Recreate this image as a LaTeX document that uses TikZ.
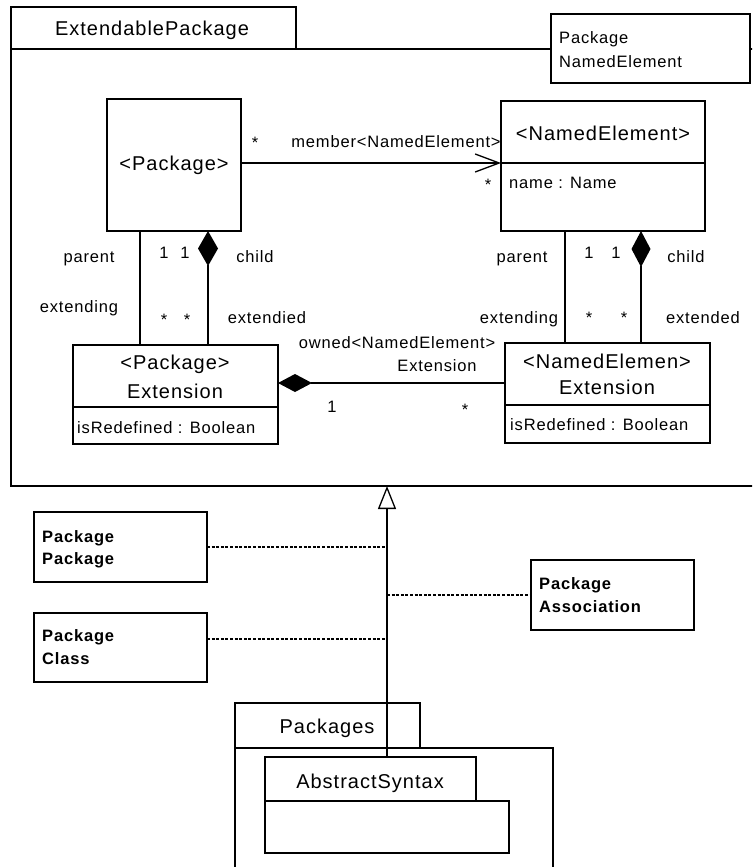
\documentclass[tikz,border=0pt]{standalone}
\usepackage{fontspec}
\setmainfont{Liberation Sans}[LetterSpace=5]
\usetikzlibrary{arrows.meta}
\newcommand\fS{\fontsize{16.5pt}{19pt}\selectfont}
\newcommand\fB{\fontsize{20pt}{24pt}\selectfont}
\tikzset{
  cls/.style={draw, line width=1.8pt, inner sep=0pt, outer sep=0pt, anchor=north west, fill=white},
  pk/.style={draw, line width=1.4pt, inner sep=0pt, outer sep=0pt, anchor=north west},
  nt/.style={draw, line width=1.3pt, inner sep=0pt, outer sep=0pt, anchor=north west, fill=white},
  lbl/.style={font=\fS, inner sep=0pt, text height=11.8pt, text depth=0pt},
  lblw/.style={lbl, anchor=west},
  big/.style={font=\fB, inner sep=0pt, text height=14.3pt, text depth=0pt},
  bld/.style={font=\fS\bfseries, inner sep=0pt, text height=11.8pt, text depth=0pt, anchor=west},
  conn/.style={line width=1.3pt},
  dsh/.style={line width=1.2pt, dash pattern=on 3pt off 1.6pt},
}
\begin{document}
\begin{tikzpicture}[x=1pt,y=-1pt]
\useasboundingbox (0,0) rectangle (752,867);
\clip (0,0) rectangle (752,867);
% top package
\node[pk, minimum width=770pt, minimum height=437pt] (body) at (11,49) {};
\node[pk, minimum width=285pt, minimum height=42pt] (tab) at (11,7) {};
\node[big] (tabT) at (152,28) {ExtendablePackage};
\node[nt, minimum width=199pt, minimum height=69pt] (note) at (551,14) {};
\node[lblw] (noteA) at (559,38) {Package};
\node[lblw] (noteB) at (559,62) {NamedElement};
% classes
\node[cls, minimum width=134pt, minimum height=132pt] (pkg) at (107,99) {};
\node[big] (pkgT) at (174,163) {<Package>};
\node[cls, minimum width=204pt, minimum height=62pt] (neT) at (501,101) {};
\node[cls, minimum width=204pt, minimum height=68pt] (neB) at (501,163) {};
\node[big] (neTT) at (603,133) {<NamedElement>};
\node[lblw] (neBT) at (509,183) {name : Name};
\node[cls, minimum width=205pt, minimum height=62pt] (peT) at (73,345) {};
\node[cls, minimum width=205pt, minimum height=37pt] (peB) at (73,407) {};
\node[big] (peT1) at (175,362) {<Package>};
\node[big] (peT2) at (175,391) {Extension};
\node[lblw] (peBT) at (77,428) {isRedefined : Boolean};
\node[cls, minimum width=205pt, minimum height=62pt] (xeT) at (505,343) {};
\node[cls, minimum width=205pt, minimum height=38pt] (xeB) at (505,405) {};
\node[big] (xeT1) at (607,361) {<NamedElemen>};
\node[big] (xeT2) at (607,387) {Extension};
\node[lblw] (xeBT) at (510,425) {isRedefined : Boolean};
% helper coordinates
\coordinate (xA) at (140,0);
\coordinate (xB) at (208,0);
\coordinate (xC) at (565,0);
\coordinate (xD) at (641,0);
\coordinate (yM) at (0,163);
\coordinate (yC) at (0,383);
\coordinate (xG) at (387,0);
% connectors
\draw[conn, -{Straight Barb[length=24pt,width=18pt]}] (pkg.east |- yM) -- (neT.west |- yM);
\draw[conn] (pkg.south -| xA) -- (peT.north -| xA);
\draw[conn, {Diamond[length=35pt,width=20pt]}-] (pkg.south -| xB) -- (peT.north -| xB);
\draw[conn] (neB.south -| xC) -- (xeT.north -| xC);
\draw[conn, {Diamond[length=36pt,width=19pt]}-] (neB.south -| xD) -- (xeT.north -| xD);
\draw[conn, {Diamond[length=34pt,width=18pt]}-] (peT.east |- yC) -- (xeT.west |- yC);
% labels
\node[lbl] (s1) at (255,143) {*};
\node[lbl] (mem) at (396,142) {member<NamedElement>};
\node[lbl] (s2) at (488,185) {*};
\node[lbl] (lpar) at (89,257) {parent};
\node[lbl] (lext) at (79,307) {extending};
\node[lbl] (l11) at (164,253) {1};
\node[lbl] (l12) at (185,253) {1};
\node[lbl] (ls1) at (164,320) {*};
\node[lbl] (ls2) at (187,320) {*};
\node[lbl] (lch) at (255,257) {child};
\node[lbl] (lexd) at (267,318) {extendied};
\node[lbl] (own1) at (397,343) {owned<NamedElement>};
\node[lbl] (own2) at (437,366) {Extension};
\node[lbl] (c1) at (332,407) {1};
\node[lbl] (cs) at (465,410) {*};
\node[lbl] (rpar) at (522,257) {parent};
\node[lbl] (r11) at (589,253) {1};
\node[lbl] (r12) at (616,253) {1};
\node[lbl] (rch) at (686,257) {child};
\node[lbl] (rext) at (519,318) {extending};
\node[lbl] (rs1) at (589,318) {*};
\node[lbl] (rs2) at (624,318) {*};
\node[lbl] (rexd) at (703,318) {extended};
% lower packages
\node[pk, minimum width=185pt, minimum height=45pt] (pkgsT) at (235,703) {};
\node[pk, minimum width=318pt, minimum height=140pt] (pkgsB) at (235,748) {};
\node[big] (pkgsTT) at (327,726) {Packages};
\node[pk, minimum width=211pt, minimum height=44pt] (asT) at (265,757) {};
\node[pk, minimum width=244pt, minimum height=52pt] (asB) at (265,801) {};
\node[big] (asTT) at (370,781) {AbstractSyntax};
% notes
\node[nt, minimum width=173pt, minimum height=70pt] (pp) at (34,512) {};
\node[bld] (pp1) at (42,537) {Package};
\node[bld] (pp2) at (42,559) {Package};
\node[nt, minimum width=173pt, minimum height=69pt] (pc) at (34,613) {};
\node[bld] (pc1) at (42,636) {Package};
\node[bld] (pc2) at (42,659) {Class};
\node[nt, minimum width=163pt, minimum height=70pt] (pa) at (531,560) {};
\node[bld] (pa1) at (539,584) {Package};
\node[bld] (pa2) at (539,607) {Association};
% generalization
\draw[conn, -{Triangle[length=23pt,width=18pt,fill=white]}] (asT.north -| xG) -- (body.south -| xG);
\coordinate (d1) at (387,547);
\coordinate (d2) at (387,639);
\coordinate (d3) at (387,595);
\draw[dsh] (pp.east |- d1) -- (d1);
\draw[dsh] (pc.east |- d2) -- (d2);
\draw[dsh] (d3) -- (pa.west |- d3);
\end{tikzpicture}
\end{document}
